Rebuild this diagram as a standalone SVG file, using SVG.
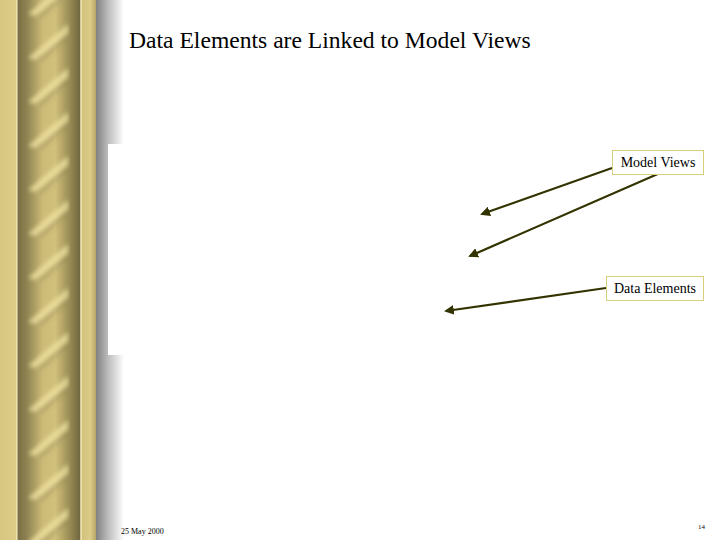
<svg xmlns="http://www.w3.org/2000/svg" width="720" height="540" viewBox="0 0 720 540">
<defs>
<style>
.t{font-family:'Liberation Serif','Times New Roman',serif;fill:#000000}
.box{fill:#fff;stroke:#d6ce78;stroke-width:1}
.con{stroke:#333300;stroke-width:2.2;fill:none;marker-end:url(#ah)}
</style>
<marker id="ah" viewBox="0 0 10 10" refX="8" refY="5" markerWidth="4.5" markerHeight="4.5" orient="auto" markerUnits="strokeWidth">
<path d="M0,0 L10,5 L0,10 z" fill="#333300"/>
</marker>
<linearGradient id="col" x1="0" y1="0" x2="1" y2="0">
<stop offset="0" stop-color="#7a6f45"/>
<stop offset="0.15" stop-color="#8f8352"/>
<stop offset="0.4" stop-color="#cbbb77"/>
<stop offset="0.6" stop-color="#d0c07b"/>
<stop offset="0.8" stop-color="#a09258"/>
<stop offset="1" stop-color="#6e643f"/>
</linearGradient>
<linearGradient id="side" x1="0" y1="0" x2="1" y2="0">
<stop offset="0" stop-color="#d3c27d"/>
<stop offset="0.6" stop-color="#dccb86"/>
<stop offset="1" stop-color="#b5a668"/>
</linearGradient>
<linearGradient id="left" x1="0" y1="0" x2="1" y2="0">
<stop offset="0" stop-color="#d8c780"/>
<stop offset="1" stop-color="#dccc88"/>
</linearGradient>
<linearGradient id="shadow" x1="0" y1="0" x2="1" y2="0">
<stop offset="0" stop-color="#808080"/>
<stop offset="0.4" stop-color="#b8b8b8"/>
<stop offset="1" stop-color="#ffffff"/>
</linearGradient>
<filter id="soft" x="-20%" y="-5%" width="140%" height="110%">
<feGaussianBlur stdDeviation="2"/>
</filter>
<g id="band">
<path d="M28,34 L68,0 L68,9 L36,36 z" fill="#f0e2a0" opacity="0.8"/>
<path d="M36,36 L68,9 L68,14 L42,37 z" fill="#6f6540" opacity="0.3"/>
</g>
<clipPath id="colclip"><rect x="26" y="0" width="44" height="540"/></clipPath>
</defs>
<rect width="720" height="540" fill="#ffffff"/>
<g id="background">
<rect x="0" y="0" width="16" height="540" fill="url(#left)"/>
<rect x="16" y="0" width="1.5" height="540" fill="#efe3a6"/>
<rect x="17.5" y="0" width="63" height="540" fill="url(#col)"/>
<g clip-path="url(#colclip)">
<g filter="url(#soft)">
<use href="#band" y="-20"/>
<use href="#band" y="24"/>
<use href="#band" y="68"/>
<use href="#band" y="112"/>
<use href="#band" y="156"/>
<use href="#band" y="200"/>
<use href="#band" y="244"/>
<use href="#band" y="288"/>
<use href="#band" y="332"/>
<use href="#band" y="376"/>
<use href="#band" y="420"/>
<use href="#band" y="464"/>
<use href="#band" y="508"/>
</g>
</g>
<rect x="80.5" y="0" width="1.5" height="540" fill="#ece0a0"/>
<rect x="82" y="0" width="14" height="540" fill="url(#side)"/>
<rect x="96" y="0" width="28" height="540" fill="url(#shadow)"/>
<rect x="108" y="144" width="330" height="211" fill="#ffffff"/>
</g>
<text class="t" x="129" y="48" font-size="23.6">Data Elements are Linked to Model Views</text>
<g id="connectors">
<line class="con" x1="612" y1="168" x2="482" y2="214"/>
<line class="con" x1="660" y1="173" x2="470" y2="256"/>
<line class="con" x1="606" y1="288" x2="446" y2="311"/>
</g>
<g id="model-views">
<rect class="box" x="612.5" y="150.5" width="91" height="24"/>
<text class="t" x="658" y="167" font-size="14" text-anchor="middle">Model Views</text>
</g>
<g id="data-elements">
<rect class="box" x="606.5" y="276.5" width="97" height="24"/>
<text class="t" x="655" y="293" font-size="14" text-anchor="middle">Data Elements</text>
</g>
<text class="t" x="121" y="534" font-size="8">25 May 2000</text>
<text class="t" x="698" y="529" font-size="7">14</text>
</svg>
